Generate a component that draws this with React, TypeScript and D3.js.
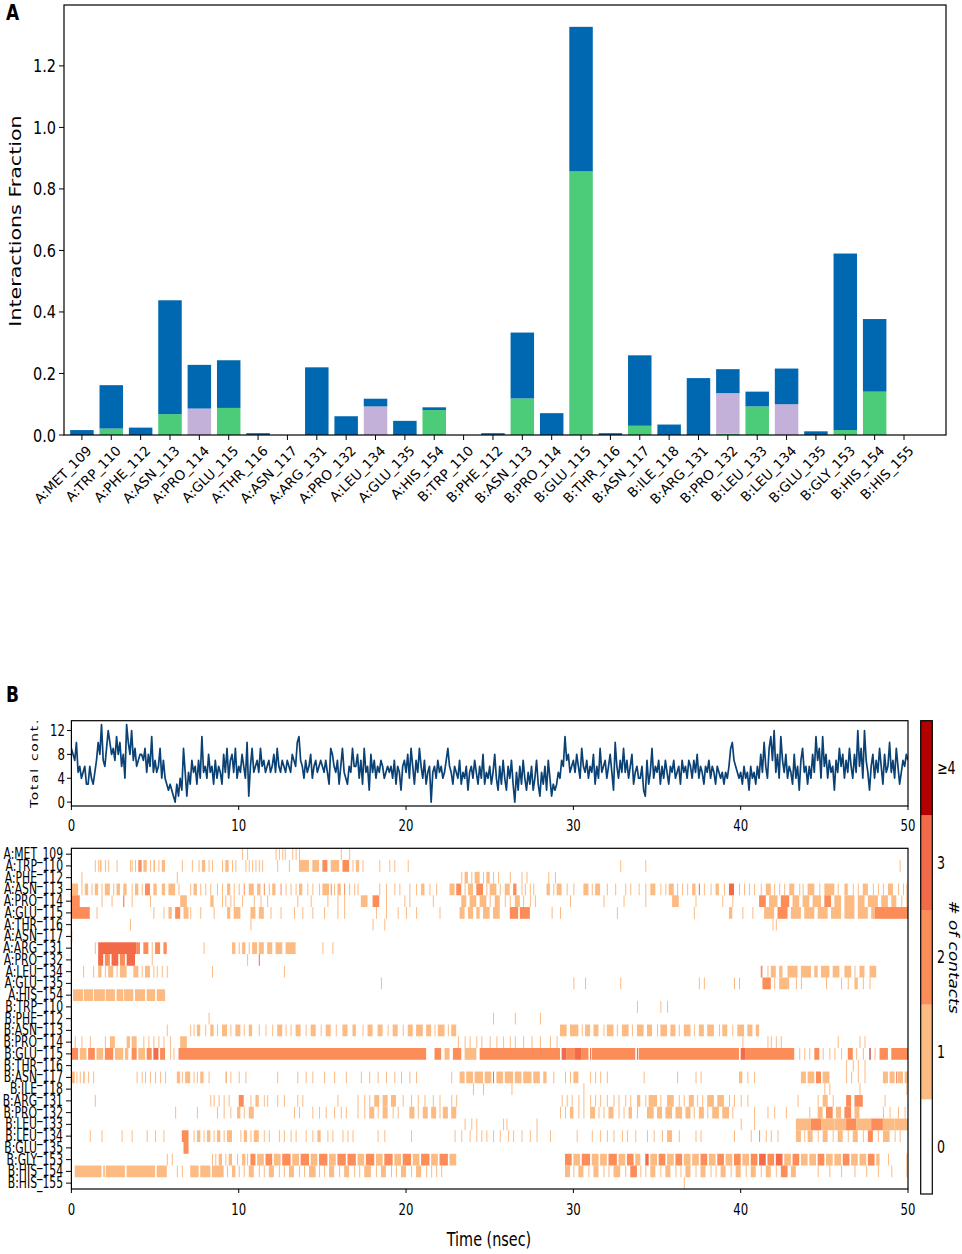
import * as React from 'react';
import * as d3 from 'd3';

// ---- panel A : interaction fractions per residue ----
const residues = [
  'A:MET_109', 'A:TRP_110', 'A:PHE_112', 'A:ASN_113', 'A:PRO_114', 'A:GLU_115', 'A:THR_116',
  'A:ASN_117', 'A:ARG_131', 'A:PRO_132', 'A:LEU_134', 'A:GLU_135', 'A:HIS_154', 'B:TRP_110',
  'B:PHE_112', 'B:ASN_113', 'B:PRO_114', 'B:GLU_115', 'B:THR_116', 'B:ASN_117', 'B:ILE_118',
  'B:ARG_131', 'B:PRO_132', 'B:LEU_133', 'B:LEU_134', 'B:GLU_135', 'B:GLY_153', 'B:HIS_154',
  'B:HIS_155',
];
const hbonds = [0, 0.021, 0, 0.068, 0, 0.088, 0, 0, 0, 0, 0, 0, 0.081, 0, 0, 0.119, 0, 0.857, 0, 0.030, 0, 0, 0.004, 0.093, 0, 0, 0.016, 0.141, 0];
const hydrophobic = [0, 0, 0, 0, 0.086, 0, 0, 0, 0, 0, 0.093, 0, 0, 0, 0, 0, 0, 0, 0, 0, 0, 0, 0.132, 0, 0.100, 0, 0, 0, 0];
const waterBridges = [0.016, 0.141, 0.024, 0.370, 0.142, 0.155, 0.006, 0, 0.220, 0.061, 0.025, 0.046, 0.009, 0, 0.006, 0.214, 0.071, 0.470, 0.006, 0.229, 0.034, 0.185, 0.078, 0.048, 0.116, 0.012, 0.574, 0.236, 0];
const fractionTicks = [0, 0.2, 0.4, 0.6, 0.8, 1.0, 1.2];

// ---- panel B : total contacts over time (every 0.1 ns) ----
const totalContacts = [
  9, 8, 7, 10, 5, 6, 4, 5, 6, 3,
  3, 6, 4, 3, 5, 7, 10, 8, 13, 7,
  6, 9, 12, 10, 8, 9, 7, 11, 8, 10,
  6, 8, 4, 13, 10, 8, 12, 7, 9, 6,
  7, 8, 8, 7, 9, 5, 8, 6, 11, 5,
  7, 5, 6, 9, 4, 7, 4, 3, 2, 3,
  2, 1, 0, 3, 1, 4, 2, 9, 5, 1,
  5, 3, 7, 5, 6, 3, 7, 4, 11, 5,
  6, 4, 8, 5, 6, 3, 7, 4, 6, 5,
  3, 8, 5, 9, 4, 7, 8, 5, 9, 4,
  6, 5, 8, 6, 4, 10, 1, 6, 9, 5, // 10 ns
  6, 7, 5, 9, 6, 7, 5, 6, 7, 5,
  6, 8, 5, 9, 6, 5, 7, 6, 5, 7,
  6, 5, 8, 7, 6, 10, 11, 7, 6, 4,
  7, 5, 6, 8, 4, 6, 7, 5, 6, 7,
  6, 5, 7, 5, 3, 9, 8, 6, 5, 7,
  3, 6, 9, 5, 4, 3, 6, 5, 9, 6,
  6, 8, 4, 7, 3, 9, 5, 6, 2, 8,
  5, 7, 4, 6, 5, 7, 6, 4, 5, 6,
  5, 6, 4, 7, 3, 6, 5, 2, 6, 7,
  5, 8, 4, 9, 6, 3, 7, 5, 9, 6, // 20 ns
  4, 7, 3, 5, 6, 0, 5, 6, 4, 7,
  5, 6, 4, 5, 7, 9, 6, 5, 3, 6,
  5, 4, 7, 3, 5, 4, 6, 2, 5, 6,
  4, 7, 5, 3, 6, 4, 8, 3, 5, 4,
  6, 3, 5, 8, 4, 2, 6, 3, 7, 4,
  2, 6, 4, 7, 3, 0, 5, 2, 6, 3,
  7, 4, 2, 5, 3, 6, 2, 4, 7, 3,
  1, 5, 3, 6, 2, 7, 4, 1, 3, 2,
  3, 5, 4, 7, 6, 11, 7, 8, 5, 6,
  7, 5, 8, 6, 4, 9, 6, 5, 7, 4, // 30 ns
  6, 5, 8, 3, 6, 4, 9, 5, 6, 7,
  4, 6, 8, 5, 2, 10, 6, 4, 7, 5,
  9, 5, 7, 4, 6, 8, 3, 5, 6, 4,
  4, 6, 2, 1, 7, 3, 5, 9, 4, 6,
  5, 7, 3, 6, 4, 7, 5, 3, 6, 5,
  7, 4, 5, 6, 3, 7, 5, 6, 4, 7,
  6, 4, 7, 5, 8, 4, 6, 5, 3, 6,
  5, 7, 4, 6, 5, 3, 6, 5, 4, 5,
  3, 5, 4, 6, 9, 10, 7, 6, 5, 4,
  5, 3, 6, 4, 5, 2, 6, 4, 5, 3, // 40 ns
  6, 4, 8, 5, 10, 6, 4, 9, 11, 7,
  12, 5, 8, 4, 11, 7, 5, 8, 4, 6,
  5, 3, 8, 4, 6, 2, 7, 9, 5, 6,
  3, 6, 4, 8, 5, 11, 7, 9, 4, 11,
  6, 8, 4, 7, 5, 6, 2, 7, 5, 9,
  6, 8, 4, 7, 5, 9, 6, 4, 8, 5,
  12, 6, 9, 4, 12, 7, 5, 2, 6, 8,
  4, 7, 5, 9, 6, 3, 8, 5, 6, 10,
  5, 7, 4, 9, 6, 3, 5, 7, 6, 8,
  7,
];
const contactTicks = [0, 4, 8, 12];
const timeTicks = [0, 10, 20, 30, 40, 50];

// contact timeline per residue: "start-end@level" or single frame "t@level" (ns), level 1 if omitted
const contactRows = [
  '10.2 10.5 12.2 12.4 12.6 12.75 13.2 13.4 13.6 16.1 16.6',
  '1.4 1.6 1.7-1.8 2.0 2.2 2.7 3.5 3.6 3.8 4.0-4.2@2 4.3-4.5 4.7 4.9-5.0 5.2 5.4-5.6 6.6 7.2 7.6 7.8-8.0 8.2 8.4 9.0 9.2-9.4 9.6 9.8 10.4 10.6 10.8 11.0 11.2 11.4 12.3 13.0 13.6-14.2 14.4-14.8 15.0-15.3@2 15.5-16.0 16.2-16.6@2 16.8 17.0-17.2 17.4 18.4 19.0 19.3 20.1 32.8 34.3 49.5',
  '0.6 6.3 23.3 23.5-23.7 23.9 24.1-24.4 24.6 24.8-25.0 25.2 25.5 26.2 26.9 27.2 28.5 28.9',
  '0-0.4 0.6 0.8-1.0 1.2 1.4-1.6 1.8 2.0-2.3 2.5 2.7-2.9 3.1-3.3 3.6 3.8-4.0 4.2 4.4-4.7@2 4.9-5.1 5.4-5.6 5.8-6.2 6.4 7.1 7.3-7.5 7.7 8.0 8.3 8.7 9.0 9.3-9.5 9.7 10.0 10.3@2 10.6-10.9 11.1-11.3 11.5@2 11.8 12.0-12.2 12.5@2 12.8 13.1 13.4 13.6-13.8 14.1 14.4 14.8 15.0-15.4 15.5@2 15.7 15.9-16.1 16.3@2 16.6 16.9 17.1 18.4 18.8 19.3 19.6 20.2 20.6 20.9-21.1 21.4 21.8 22.6-22.9 23.0-23.3@2 23.5 23.7-24.0 24.2-24.6@2 24.8 25.0-25.4 25.6 25.9-26.2 26.4-26.6@2 26.9 27.1 27.4 27.6 28.4-28.6 28.8 29.0-29.3 29.6 30.0 30.6-30.9 31.1 31.3-31.6 32.0 32.5 33.1 33.4 33.9 34.3 34.6-34.9 35.2 35.5 35.7-36.0 36.2 36.5 36.8 37.1-37.3 37.5@3 37.8 38.2 38.5-38.7 39.0 39.3-39.6@3 39.9 40.2 40.5 40.8 41.2 41.5-41.8 42.0 42.3 42.6 42.9-43.2 43.5 43.7 44.0-44.4 44.7 45.0-45.6 45.8 46.2-46.4 46.7 47.0 47.3-47.6 47.9 48.2 48.5 48.8-49.1 49.4 49.7 49.9',
  '0-0.5@2 1.8 2.4 3.1@3 3.6 4.7 6.5-6.9 8.3-8.5 9.0 9.2 9.5 9.7 10.2 10.9 11.3 11.7 13.5 14.3 15.3 15.9 16.3 17.3-17.7 18.0-18.4@2 18.8 19.9 20.2 21.6 23.3-23.6 23.8-24.2 24.4-24.8 25.0 25.3-25.6 25.9 26.2 26.5-26.8 27.0 27.4 27.7 29.8 31.8 33.0 34.3 35.9-36.3 37.3 38.9 39.5 41.1-41.5@2 41.7-42.2 42.4-42.9@2 43.1-43.5 43.7-44.1 44.3-44.8 45.0-45.4@2 45.6-46.0 46.2-46.8 47.0-47.4 47.6-48.2 48.4-48.8 49.0-49.3 49.6 49.9',
  '0-1.1@2 1.5 4.9 5.5 5.8-6.0 6.2-6.5@2 6.7-7.0 7.1 7.7 8.5 9.3-9.5 9.7-10.1 10.7-11.0 11.2-11.5 11.9 12.5 13.3 13.8 14.4 15.1 15.9 16.3 18.2 18.8 19.5 20.0 20.6 22.0 23.2-23.5 23.7-24.0 24.2-24.4 24.6-25.0 25.2-25.6 26.2-26.7@2 26.8-27.4@2 28.7 29.2 32.6 37.2 39.3-39.5 40.1 40.7 41.4-42.0 42.2-42.8@2 43.0-43.6 43.8-44.4 44.6-45.2 45.4-46.0 46.2-46.8 47.0-47.6 47.8-48.0 48.0-50@2',
  '3.5 10.7 18.0 18.7 41.9 42.1',
  '0-0.05',
  '1.4 1.6-3.9@3 3.9-4.1@2 4.3-4.6@2 4.8 5.0-5.3@2 5.5-5.7@2 7.9 9.6-9.8 10.0 10.2-10.4 10.6 10.8-11.1 11.2-11.5 11.7-12.0 12.2-12.6 12.8-13.4 15.0 15.6',
  '1.6-1.9@3 2.0-2.3@2 2.4-2.8@3 2.9-3.2@2 3.3-3.8@3 4.8 10.5 11.2@3',
  '0.7 1.3 1.6-1.8 2.0 2.2-2.5 2.7 2.9-3.3 3.7-4.0 4.2 4.4-4.7 4.9 5.1 5.4 5.7 8.4 12.7 41.2-41.3@2 41.6 41.8-42.1 42.3-42.5 42.8-43.4 43.6-44.2 44.4-44.6 44.8-45.3 45.5-45.9 46.2-46.6 46.8 47.1-47.4 47.7-48.1',
  '18.5 30.0 30.7 32.8 37.5 37.8 39.6 39.9 41.3-41.8@2 42.0 42.3-42.9 43.3 43.6 45.1 46.0 46.4 46.8-47.0 47.3 47.7',
  '0.1-0.7 0.75-1.3 1.35-2.0 2.05-2.6 2.7-3.1 3.15-3.7 3.8-4.4 4.5-5.0 5.1-5.6',
  '33.8 35.2 35.6',
  '8.2 25.2 26.5 28.0',
  '5.7 7.1 7.3 7.5-7.7 8.0 8.3-8.5 8.7 9.0-9.3 9.5 9.8-10.1 10.3 10.6-10.8 11.2 11.6 12.0 12.3-12.6 12.8 13.1 13.4-13.7 14.0 14.3-14.6 14.9 15.2-15.5 15.8 16.2-16.5 16.8-17.0 17.4 17.7-18.0 18.3-18.6 18.9 19.2-19.5 19.8 20.1-20.4 20.6-21.0 21.2-21.5 21.7 21.9-22.3 22.5 22.7-23.0 29.2-29.6 29.8-30.3 30.5 30.7-31.0 31.2-31.5 31.8 32.0-32.4 32.6 32.9-33.3 33.5 33.8-34.2 34.4-34.7 35.0 35.2-35.6 35.8-36.1 36.3 36.6-37.0 37.2 37.5-37.8 38.0-38.4 38.7 38.9-39.2 39.5 39.8-40.2 40.4-40.7 40.9-41.1',
  '0.2 0.6 1.1 2.0 2.3-2.6 3.3-3.5 3.6-3.9 4.3 4.6 4.9 5.2 5.5 5.9 6.5-6.9 23.1 23.5 23.8 24.2 24.5 25.0 25.4 25.8 26.2 26.5 27.0 27.5 28.0 28.6 29.0 40.1 41.6 41.8 42.1 42.4 45.8 47.1 47.4',
  '0-0.4@2 0.5-0.9 1.0-1.4@2 1.5-1.9 2.0-2.5@2 2.6-3.1 3.2-3.4 3.6-3.9@2 4.0-4.4 4.5-4.8@2 4.9-5.2@3 5.3-5.6@2 5.9 6.1 6.4-21.2@2 21.7-22.1@2 22.3-22.6 22.8-23.3@2 23.5-24.0 24.0-24.2 24.4-29.2@2 29.3-29.6@3 29.6-30.1@2 30.1-30.5@3 30.5-30.9@2 31.0@3 31.1-33.7@2 33.8@3 33.9-39.9@2 40.0-40.3@3 40.3-43.2@2 43.5 43.8 44.1 44.4-44.7@2 44.9 45.3 45.6 46.0 46.4-46.7@2 46.9 47.3 47.7@4 48.0 48.3-48.8@2 49.0-50@2',
  '46.3 46.7 47.0 47.4',
  '0-0.2 0.3 0.5 0.7-0.8 1.0 1.3 3.9 4.2 4.4 4.7 5.0 5.3 5.6 6.3-6.5 6.6 6.8-7.1 7.3 7.5 7.7-7.9 8.2 9.2-9.3 9.5 10.0 10.4 12.3 13.5 14.0 14.4 15.1 15.7 16.4 17.3 17.8 18.3 18.8 19.3 19.7 20.2 20.6 22.7 23.2-23.5 23.6-24.0 24.1-24.6 24.7-25.1 25.2@3 25.4-25.8 25.9-26.4 26.5-26.9 27.0-27.5 27.6-28.0 28.2-28.4 28.8 29.5 29.8 30.0-30.3 31.0 31.3 31.6 32.0 34.2 36.2 37.3 37.6 39.9-40.1 40.4 40.8 43.6-43.9 44.0-44.4 44.5-44.8@2 44.9-45.3 46.3 46.6 47.0 47.4 48.5-48.8 48.9-49.2 49.3@3 49.4-49.7 49.8-50',
  '24.0 24.6 26.3 30.6 45.0 45.3 47.1 49.9',
  '1.4 8.3 8.5 8.8 9.1 9.4 10.0-10.3@2 10.7 11.0-11.2 11.5 11.7 12.3 12.7 13.5 13.8 15.9 17.1 17.5 17.8 18.1-18.4 18.6-18.9 19.1-19.4 19.8 20.3 20.7 21.1 21.6 22.0 22.7 23.0 29.3 29.6 29.9 30.3 30.6 31.0 31.3 31.6 32.0 32.4 32.7 33.1 33.4 33.8-34.0 34.3 34.5-35.0 35.2 35.6-36.0 36.3 36.6 36.9-37.2 37.4 37.7 38.0-38.4 38.6-39.0 39.3 39.6 40.0 40.4 43.4 44.6 44.9-45.2 45.5 46.3-46.6@2 46.8-47.3@2 48.6',
  '6.2 7.5 8.7 9.1 9.5 9.9-10.1 10.3 10.6-10.9 13.3 13.6 14.4 14.8 15.2 15.7 16.1 16.4 17.1 17.5 17.8-18.1 18.3 18.6-18.9 19.2 19.5 20.2-20.5 20.7 21.0-21.3 21.5-21.8 22.0 22.2-22.5 22.7-23.0 29.2 29.5 29.8-30.0 30.3 30.6 31.0-31.3 31.5 31.8 32.1-32.4 32.7 33.0 33.3-33.5 33.8 34.4-34.8 35.0-35.3 35.5-35.9 36.1-36.5 36.7-37.0 37.2 37.5-37.8 38.0 38.3-38.7 38.9-39.3 39.5 40.8 41.6 42.0 42.7 44.1 44.6-44.9 45.1-45.5@2 45.7-46.0 46.2-46.6@2 46.8-47.1 48.5 48.9 49.4 49.8',
  '23.5 23.9 24.2 25.8 26.0 27.8 40.0 40.8 43.3-44.2 44.2-44.8@2 44.8-45.6 45.6-46.3 46.3-46.9@2 46.9-47.8 47.8-48.5@2 48.5-49.2 49.2-50',
  '1.1 1.8 3.0 3.6 4.5 5.0 5.5 6.6-7.0@2 7.3 7.5-7.7 7.9 8.1-8.3 8.5 8.7-8.9 9.1 9.3-9.6 10.1 10.3-10.5 10.7 10.9-11.2 11.5 11.8 12.4 12.7 13.1 13.4 14.0 14.4 14.7-14.9 15.3 15.6 16.2 16.5 16.8 18.3 18.7 20.3 22.9 23.3 23.8 24.2 24.5 24.8 25.2 25.6 26.1 26.4 26.9 27.4 27.8 28.6 30.2 31.1 31.6 32.0 32.4 32.9 33.2 33.7 34.4 34.8 35.3 35.6-35.9 36.3 37.3 37.6 39.6 40.6 41.1@2 41.5 41.8 42.2 43.3-43.6 43.8 44.0-44.3 44.6 44.9-45.2 45.5 45.8-46.1 46.4 46.7-47.0 47.3 47.6-47.9@2 48.2 48.5-48.9 49.2 49.5',
  '6.7-7.0@2',
  '5.7 6.0 8.4 8.6 8.8-9.0 9.2 9.4-9.6 9.9 10.2-10.4 10.5 10.7-11.0@2 11.1-11.5 11.6-12.0@2 12.1-12.5 12.6-13.1@2 13.2-13.6 13.7-14.2@2 14.3-14.7 14.8-15.3@2 15.4-15.8 15.9-16.4@2 16.5-17.0@2 17.1-17.5 17.6-18.1@2 18.2-18.6 18.7-19.2@2 19.3-19.7 19.8-20.3@2 20.4-20.8 20.9-21.4@2 21.5-21.9 22.0-22.5@2 22.6-23.0 29.5-29.9@2 30.0-30.4 30.5-31.0@2 31.1-31.5 31.6-32.0 32.1-32.6@2 32.7-33.1 33.2-33.6@2 33.7-34.0 34.3-34.5@3 34.6-35.0 35.1-35.5@2 35.6-36.0 36.1-36.5@2 36.6-37.0 37.1-37.5 37.6-38.0@2 38.1-38.5 38.6-39.0@2 39.1-39.5 39.6-40.0@2 40.1-40.5 40.6-41.0@2 41.1-41.5@3 41.6-42.0@2 42.1-42.5@3 42.6-43.0 43.1-43.5@2 43.6-44.0 44.1-44.5 44.6-45.0@2 45.1-45.5 45.6-46.0 46.1-46.5@2 46.6-47.0 47.1-47.5 47.6-48.0@2 48.1-48.3 48.8 49.9',
  '0.2-1.8 1.9-2.0 2.05-3.2 3.3-5.0 5.1-5.7 6.3 6.6 7.1-7.6 7.7-8.3 8.4-9.1 9.3 9.6-9.8 10.0 10.3 10.6-10.9 11.2 11.5 11.8-12.1 12.4 12.7 13.0-13.3 13.6 13.9 14.2-14.6 14.8 15.1 15.4-15.7 16.0 16.3-16.6 16.9 17.2 17.5-17.9 18.2 18.5-18.8 19.1 19.4 19.7-20.0 20.3 20.6-20.9 21.2 21.5 21.8 22.1 29.5-29.8 30.0 30.3-30.6 30.9 31.2-31.5 31.8 32.1 32.4-32.8 33.1 33.4-33.8@2 34.0 34.3 34.6-34.9 35.2 35.5-35.8 36.1 36.4 36.7-37.0 37.3 37.6-37.9 38.2 38.5 38.8-39.1 39.4 39.7-40.0 40.3 40.6-40.9 41.2 41.5-41.8 42.1 42.4-42.8@2 43.0-43.3 44.6 45.3 46.0 46.8 47.5 48.2 49.0 49.9',
  '36.6',
];
const levelLabels = ['0', '1', '2', '3', '≥4'];
const levelColors = ['#ffffff', '#fdbb84', '#fc8d59', '#f26a47', '#b30000'];

const FONT = 'DejaVu Sans';
const COND = 'DejaVu Sans Condensed';
const STRETCH = 1.25; // the source figure is stretched vertically

function parseRow(row: string) {
  return row.trim().split(/\s+/).filter(Boolean).map(tok => {
    const [range, lv] = tok.split('@');
    const parts = range.split('-').map(Number);
    return { start: parts[0], end: parts.length > 1 ? parts[1] : parts[0] + 0.06, level: lv ? +lv : 1 };
  });
}

// text stretched vertically like the source image
function Label(props: { x: number; y: number; size: number; family?: string; anchor?: string; rotate?: number; italic?: boolean; spacing?: number; children: React.ReactNode }) {
  const { x, y, size, family = FONT, anchor = 'start', rotate = 0, italic, spacing, children } = props;
  const t = rotate === 0
    ? `translate(${x},${y}) scale(1,${STRETCH})`
    : `translate(${x},${y}) rotate(${rotate}) scale(${STRETCH},1)`;
  return (
    <text transform={t} textAnchor={anchor} fontFamily={family} fontSize={size}
      fontStyle={italic ? 'italic' : undefined} letterSpacing={spacing}>{children}</text>
  );
}

function PanelA() {
  const x = d3.scaleLinear().domain([-0.61, residues.length - 1 + 1.43]).range([64, 946]);
  const y = d3.scaleLinear().domain([0, 1.398]).range([435, 5]);
  const bw = x(0.4) - x(-0.4);
  const rows = residues.map((r, i) => ({ hb: hbonds[i], hy: hydrophobic[i], wb: waterBridges[i] }));
  const layers = d3.stack<any>().keys(['hb', 'hy', 'wb'])(rows);
  const colors: Record<string, string> = { hb: '#4ccc78', hy: '#c4b1d9', wb: '#0068b1' };

  return (
    <g>
      <Label x={6} y={20} size={17}><tspan fontWeight="bold">A</tspan></Label>
      {layers.map(layer => (
        <g key={layer.key} fill={colors[layer.key]}>
          {layer.map((d, i) => d[1] - d[0] > 0 ? (
            <rect key={i} x={x(i) - bw / 2} width={bw} y={y(d[1])} height={y(d[0]) - y(d[1])} />
          ) : null)}
        </g>
      ))}
      <rect x={64} y={5} width={882} height={430} fill="none" stroke="#000" strokeWidth={1.2} />
      {fractionTicks.map(t => (
        <g key={t}>
          <line x1={59} x2={64} y1={y(t)} y2={y(t)} stroke="#000" />
          <Label x={56} y={y(t) + 6.5} size={14.5} anchor="end">{d3.format('.1f')(t)}</Label>
        </g>
      ))}
      {residues.map((r, i) => (
        <g key={r} transform={`translate(${x(i)},435)`}>
          <line y2={5} stroke="#000" />
          <text transform="translate(4,10) rotate(-45)" textAnchor="end" dy="0.7em" fontFamily={FONT} fontSize={13.5}>{r}</text>
        </g>
      ))}
      <Label x={21} y={221} size={16.5} anchor="middle" rotate={-90}>Interactions Fraction</Label>
    </g>
  );
}

function PanelB() {
  const x = d3.scaleLinear().domain([0, 50]).range([71.4, 908]);
  const yLine = d3.scaleLinear().domain([-0.65, 13.65]).range([806, 720.7]);
  const line = d3.line<number>().x((d, i) => x(i * 0.1)).y(d => yLine(d)).curve(d3.curveLinear);
  const yRow = d3.scaleBand().domain(residues).range([848.3, 1189]);
  const yBar = d3.scaleBand().domain(levelLabels).range([1194, 720.7]);

  return (
    <g>
      <Label x={6} y={702} size={17}><tspan fontWeight="bold">B</tspan></Label>

      {/* total contacts */}
      <clipPath id="lineclip"><rect x={71.4} y={720.7} width={836.6} height={85.3} /></clipPath>
      <path d={line(totalContacts) || undefined} fill="none" stroke="#0b4275" strokeWidth={1.7} strokeLinejoin="round" clipPath="url(#lineclip)" />
      <rect x={71.4} y={720.7} width={836.6} height={85.3} fill="none" stroke="#000" strokeWidth={1.2} />
      {contactTicks.map(t => (
        <g key={t}>
          <line x1={67} x2={71.4} y1={yLine(t)} y2={yLine(t)} stroke="#000" />
          <Label x={65} y={yLine(t) + 5.5} size={13} family={COND} anchor="end">{t}</Label>
        </g>
      ))}
      {timeTicks.map(t => (
        <g key={t}>
          <line x1={x(t)} x2={x(t)} y1={806} y2={810} stroke="#000" />
          <Label x={x(t)} y={831} size={13} family={COND} anchor="middle">{t}</Label>
        </g>
      ))}
      <Label x={38} y={763} size={11} anchor="middle" rotate={-90} spacing={1.4}>Total cont.</Label>

      {/* contact timeline */}
      <clipPath id="mapclip"><rect x={71.4} y={848.3} width={836.6} height={340.7} /></clipPath>
      <g clipPath="url(#mapclip)">
        {contactRows.map((row, ri) => parseRow(row).map((s, si) => (
          <rect key={`${ri}-${si}`} x={x(s.start)} width={Math.max(x(s.end) - x(s.start), 0.9)}
            y={yRow(residues[ri])!} height={yRow.bandwidth()} fill={levelColors[Math.min(s.level, 4)]} />
        )))}
      </g>
      <rect x={71.4} y={848.3} width={836.6} height={340.7} fill="none" stroke="#000" strokeWidth={1.2} />
      {residues.map(r => {
        const cy = yRow(r)! + yRow.bandwidth() / 2;
        return (
          <g key={r}>
            <line x1={66} x2={71.4} y1={cy} y2={cy} stroke="#000" />
            <Label x={63} y={cy + 5} size={12} family={COND} anchor="end">{r}</Label>
          </g>
        );
      })}
      {timeTicks.map(t => (
        <g key={t}>
          <line x1={x(t)} x2={x(t)} y1={1189} y2={1193} stroke="#000" />
          <Label x={x(t)} y={1215} size={13} family={COND} anchor="middle">{t}</Label>
        </g>
      ))}
      <Label x={489} y={1246} size={16} family={COND} anchor="middle">Time (nsec)</Label>

      {/* colour bar */}
      {levelLabels.map((l, i) => (
        <g key={l}>
          <rect x={920.7} width={11.6} y={yBar(l)!} height={yBar.bandwidth()} fill={levelColors[i]} />
          <Label x={937} y={yBar(l)! + yBar.bandwidth() / 2 + 6} size={14} family={COND}>{l}</Label>
        </g>
      ))}
      <rect x={920.7} y={720.7} width={11.6} height={473.3} fill="none" stroke="#000" strokeWidth={1.2} />
      <Label x={949} y={957} size={13.5} anchor="middle" rotate={90} italic>{'# of contacts'}</Label>
    </g>
  );
}

export default function App() {
  return (
    <div style={{ position: 'absolute', left: 0, top: 0 }}>
      <svg width={962} height={1254} style={{ display: 'block', background: '#fff' }}>
        <PanelA />
        <PanelB />
      </svg>
    </div>
  );
}
